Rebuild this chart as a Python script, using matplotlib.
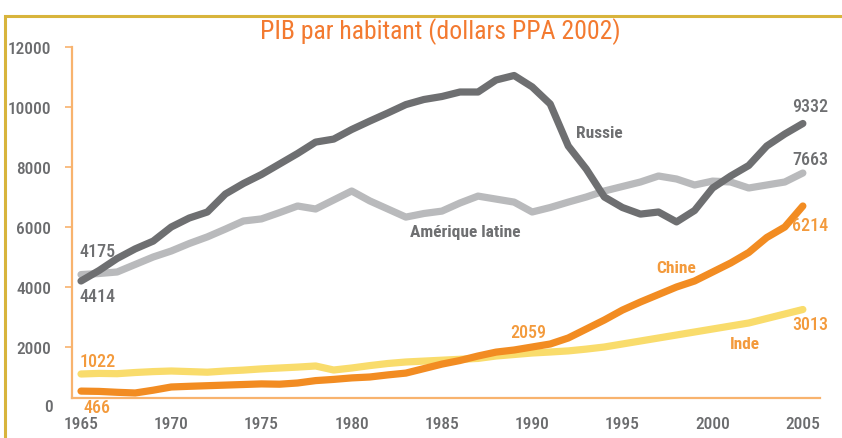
import matplotlib
matplotlib.use('Agg')
import matplotlib.pyplot as plt
from matplotlib.patches import Rectangle

plt.rcParams['font.family'] = ['Roboto Condensed', 'DejaVu Sans']

years = list(range(1965, 2006))

russie = [4200, 4550, 4950, 5270, 5530, 6000, 6300, 6500, 7100, 7450,
          7750, 8100, 8450, 8830, 8930, 9250, 9530, 9800, 10080, 10250,
          10350, 10500, 10500, 10900, 11050, 10670, 10100, 8700, 7930, 7000,
          6650, 6430, 6500, 6170, 6550, 7300, 7700, 8050, 8700, 9100, 9450]
amerique = [4414, 4450, 4500, 4750, 5000, 5200, 5450, 5670, 5930, 6200,
            6270, 6480, 6700, 6600, 6900, 7200, 6870, 6600, 6330, 6450,
            6530, 6800, 7030, 6930, 6830, 6500, 6650, 6830, 7000, 7200,
            7350, 7500, 7700, 7600, 7400, 7530, 7500, 7300, 7400, 7500, 7800]
chine = [530, 520, 490, 467, 560, 667, 690, 710, 730, 750,
         770, 760, 800, 880, 920, 970, 1000, 1070, 1130, 1280,
         1430, 1550, 1700, 1830, 1900, 2000, 2100, 2300, 2600, 2900,
         3230, 3500, 3750, 4000, 4200, 4500, 4800, 5150, 5650, 6000, 6700]
inde = [1100, 1120, 1110, 1150, 1180, 1200, 1180, 1160, 1200, 1230,
        1270, 1300, 1330, 1367, 1233, 1300, 1380, 1450, 1500, 1530,
        1560, 1590, 1620, 1700, 1750, 1800, 1833, 1870, 1930, 2000,
        2100, 2200, 2300, 2400, 2500, 2600, 2700, 2800, 2950, 3100, 3250]

xticks = list(range(1965, 2006, 5))
yticks = list(range(2000, 12001, 2000))

dark = '#6e6f71'
light = '#b9babc'
orange = '#f28c22'
yellow = '#f9dc6c'
txt_orange = '#f39a3c'
axis_orange = '#f8b36e'
lbl = '#6b6c6e'

fig = plt.figure(figsize=(8.42, 4.39), dpi=100)
# gold frame round the figure (only left/top visible)
fig.patches.append(Rectangle((5 / 842, -0.1), 1.2, 1 - 17 / 439 + 0.1,
                             transform=fig.transFigure, fill=False,
                             edgecolor='#d8b43c', linewidth=2.2))
ax = fig.add_axes([72 / 842, 1 - 399 / 439, (820 - 72) / 842, (399 - 48) / 439])

kw = dict(lw=5.2, solid_capstyle='round', solid_joinstyle='round')
ax.plot(years, inde, color=yellow, **kw)
ax.plot(years, chine, color=orange, **kw)
ax.plot(years, amerique, color=light, **kw)
ax.plot(years, russie, color=dark, **kw)

ax.set_xlim(1964.5, 2005.95)
ax.set_ylim(300, 12000)
ax.set_xticks(xticks)
ax.set_yticks(yticks)
for s in ['top', 'right']:
    ax.spines[s].set_visible(False)
for s in ['left', 'bottom']:
    ax.spines[s].set_color(axis_orange)
    ax.spines[s].set_linewidth(1.6)
ax.tick_params(axis='y', colors=axis_orange, length=5, width=1.2, labelcolor=lbl,
               labelsize=12.5, pad=10)
ax.tick_params(axis='x', length=0, labelcolor=lbl, labelsize=12.5, pad=13)
for t in ax.get_xticklabels() + ax.get_yticklabels():
    t.set_fontweight('medium')
ax.text(-0.025, 0, '0', transform=ax.get_yaxis_transform(), ha='right', va='center',
        fontsize=12.5, color=lbl, fontweight='medium')

fig.text(440 / 842, 1 - 32 / 439, 'PIB par habitant (dollars PPA 2002)', ha='center',
         va='center', fontsize=18.5, color='#f37a30')

# series labels
lab = dict(fontsize=12.5, fontweight='bold', ha='center', va='center')
ax.text(1993.7, 9150, 'Russie', color=dark, **lab)
ax.text(1986.3, 5850, 'Amérique latine', color=dark, **lab)
ax.text(1998.0, 4650, 'Chine', color=txt_orange, **lab)
ax.text(2001.8, 2100, 'Inde', color=txt_orange, **lab)

# value labels
val = dict(fontsize=13, fontweight='medium', ha='center', va='center')
ax.text(1965.9, 5200, '4175', color=dark, **val)
ax.text(1965.9, 3700, '4414', color=dark, **val)
ax.text(1965.9, 1530, '1022', color=txt_orange, **val)
ax.text(1965.9, 0, '466', color=txt_orange, clip_on=False, **val)
ax.text(1989.8, 2500, '2059', color=txt_orange, **val)
ax.text(2005.4, 10050, '9332', color=dark, **val)
ax.text(2005.4, 8280, '7663', color=dark, **val)
ax.text(2005.4, 6080, '6214', color=txt_orange, **val)
ax.text(2005.4, 2780, '3013', color=txt_orange, **val)

fig.savefig('out.png', dpi=100)
